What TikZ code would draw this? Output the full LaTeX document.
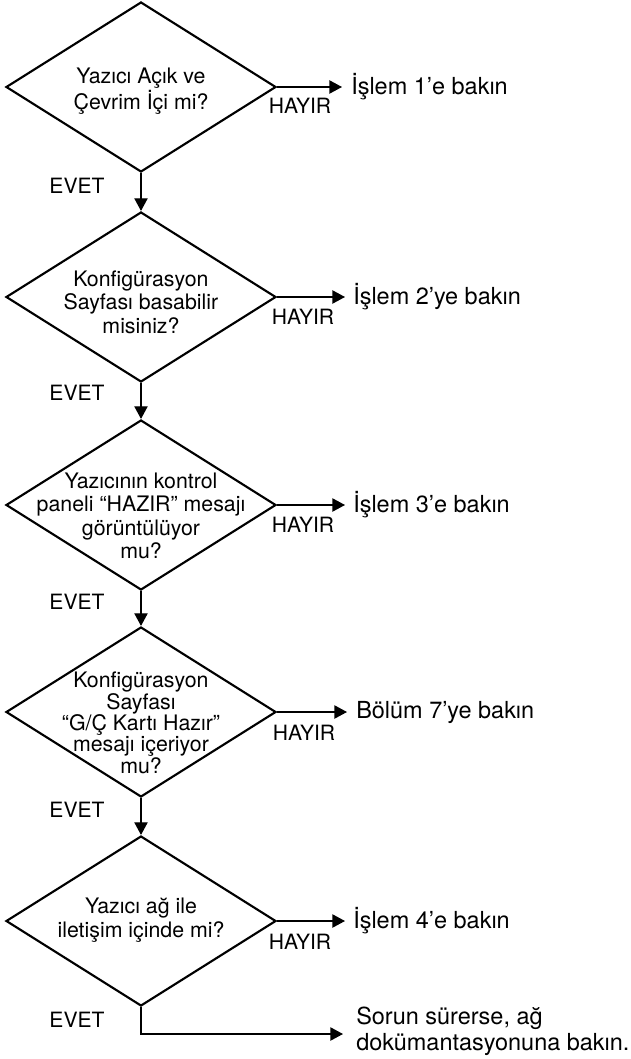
\documentclass[tikz,border=0pt]{standalone}
\usepackage{fontspec}
\setmainfont{TeX Gyre Heros}
\usetikzlibrary{arrows.meta,shapes.geometric}
\begin{document}
\begin{tikzpicture}[x=0.75pt,y=-0.75pt,
  dia/.style={draw, line width=1.6pt, diamond, minimum width=202.5pt, minimum height=127.5pt, inner sep=0pt},
  dtxt/.style={align=center, inner sep=0pt, font=\fontsize{16}{17.6}\selectfont},
  yn/.style={inner sep=0pt, font=\fontsize{15.8}{17}\selectfont},
  lbl/.style={inner sep=0pt, anchor=west, align=left, font=\fontsize{17.6}{19.5}\selectfont},
  arr/.style={line width=1pt, -{Triangle[length=9.5pt,width=10pt]}}]
\useasboundingbox (0,0) rectangle (631,1059);
% diamonds
\node[dia] (d1) at (141,87) {};
\node[dia] (d2) at (141,297) {};
\node[dia] (d3) at (141,505) {};
\node[dia] (d4) at (141,712) {};
\node[dia] (d5) at (141,921) {};
% diamond texts
\node[dtxt] (q1) at (141,91) {Yazıcı Açık ve\\Çevrim İçi mi?};
\node[dtxt] (q2) at (141,302) {Konfigürasyon\\Sayfası basabilir\\misiniz?};
\node[dtxt] (q3) at (141,516) {Yazıcının kontrol\\paneli “HAZIR” mesajı\\görüntülüyor\\mu?};
\node[dtxt, font=\fontsize{16}{16}\selectfont] (q4) at (141,723) {Konfigürasyon\\Sayfası\\“G/Ç Kartı Hazır”\\mesajı içeriyor\\mu?};
\node[dtxt] (q5) at (141,920) {Yazıcı ağ ile\\iletişim içinde mi?};
% right labels
\node[lbl] (l1) at (351,87) {İşlem 1’e bakın};
\node[lbl] (l2) at (353,297) {İşlem 2’ye bakın};
\node[lbl] (l3) at (353,505) {İşlem 3’e bakın};
\node[lbl] (l4) at (356,712) {Bölüm 7’ye bakın};
\node[lbl] (l5) at (353,921) {İşlem 4’e bakın};
\node[lbl] (l6) at (356,1031) {Sorun sürerse, ağ\\dokümantasyonuna bakın.};
% HAYIR / EVET
\node[yn] (h1) at (300,106) {HAYIR};
\node[yn] (h2) at (303,317) {HAYIR};
\node[yn] (h3) at (303,525) {HAYIR};
\node[yn] (h4) at (304,733) {HAYIR};
\node[yn] (h5) at (300,942) {HAYIR};
\node[yn] (e1) at (77,186) {EVET};
\node[yn] (e2) at (77,393) {EVET};
\node[yn] (e3) at (77,602) {EVET};
\node[yn] (e4) at (77,810) {EVET};
\node[yn] (e5) at (77,1020) {EVET};
% connectors
\coordinate (t1) at (342,87);
\coordinate (t2) at (345,297);
\coordinate (t3) at (345,505);
\coordinate (t4) at (347,712);
\coordinate (t5) at (345,921);
\coordinate (t6) at (343,1034);
\draw[arr] (d1.east) -- (t1);
\draw[arr] (d2.east) -- (t2);
\draw[arr] (d3.east) -- (t3);
\draw[arr] (d4.east) -- (t4);
\draw[arr] (d5.east) -- (t5);
\draw[arr] (d1.south) -- (d2.north);
\draw[arr] (d2.south) -- (d3.north);
\draw[arr] (d3.south) -- (d4.north);
\draw[arr] (d4.south) -- (d5.north);
\draw[arr] (d5.south) |- (t6);
\end{tikzpicture}
\end{document}
